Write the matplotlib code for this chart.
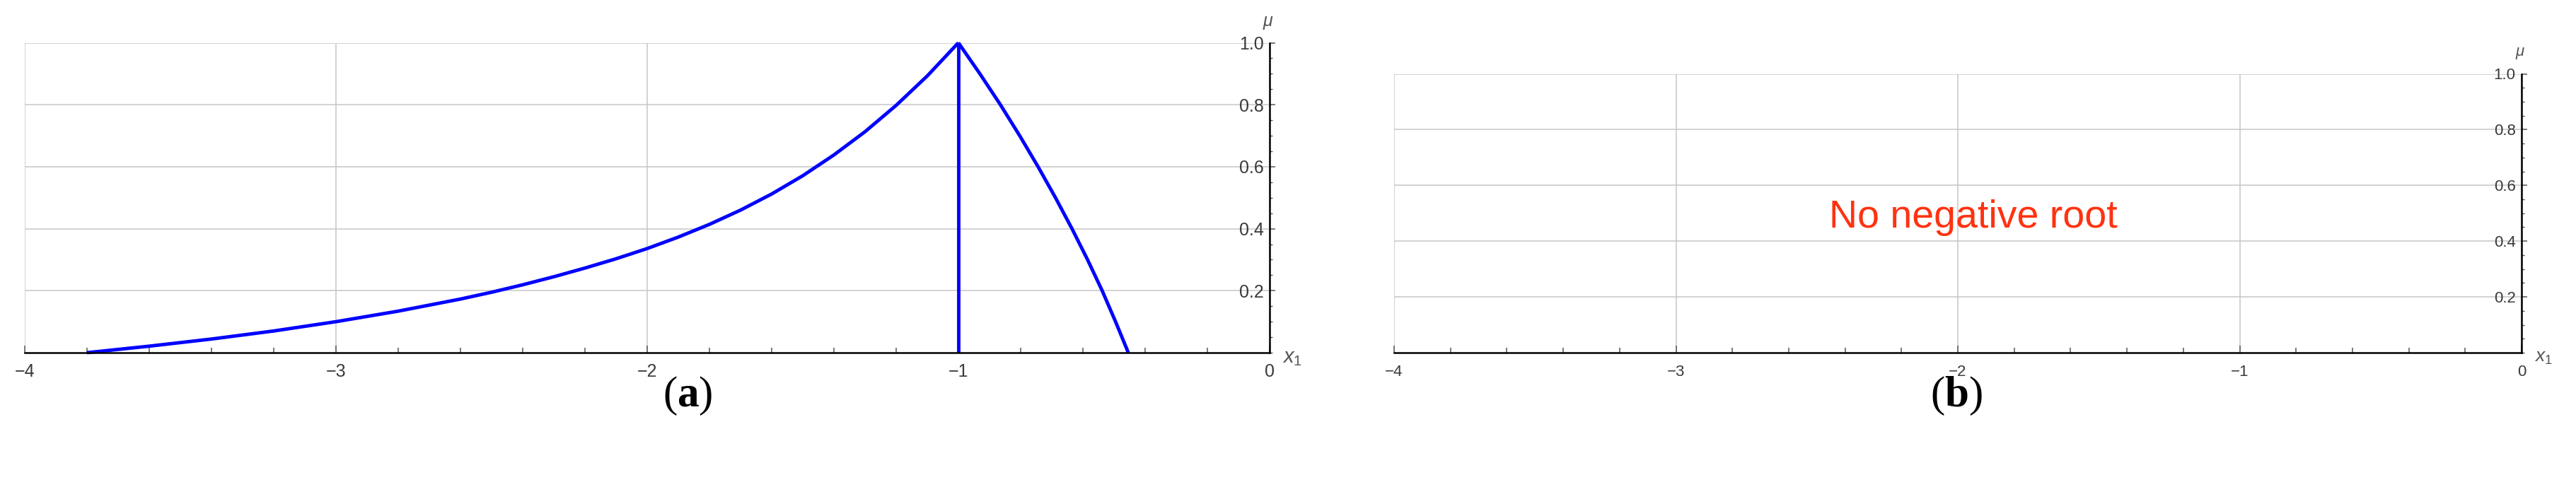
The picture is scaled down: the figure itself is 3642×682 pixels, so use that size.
import matplotlib
matplotlib.use('Agg')
import matplotlib.pyplot as plt
from matplotlib.ticker import MultipleLocator, FixedLocator

# ---------------- data ----------------
left_x = [-3.80, -3.60, -3.40, -3.20, -3.00, -2.80, -2.60, -2.50, -2.40, -2.30, -2.20, -2.10,
          -2.00, -1.90, -1.80, -1.70, -1.60, -1.50, -1.40, -1.30, -1.20, -1.10, -1.00]
left_mu = [0.000, 0.021, 0.044, 0.070, 0.100, 0.134, 0.173, 0.195, 0.219, 0.245, 0.273, 0.303,
           0.336, 0.373, 0.414, 0.460, 0.512, 0.571, 0.638, 0.713, 0.798, 0.893, 1.000]
right_x = [-1.000, -0.931, -0.865, -0.803, -0.744, -0.688, -0.635, -0.585, -0.538, -0.495, -0.454]
right_mu = [1.00, 0.90, 0.80, 0.70, 0.60, 0.50, 0.40, 0.30, 0.20, 0.10, 0.00]
spike_x = [-1.0, -1.0]
spike_mu = [0.0, 1.0]
x_ticks = [-4, -3, -2, -1, 0]
x_ticklabels = ['\u22124', '\u22123', '\u22122', '\u22121', '0']
y_ticks = [0.2, 0.4, 0.6, 0.8, 1.0]
y_ticklabels = ['0.2', '0.4', '0.6', '0.8', '1.0']
panel_labels = ['a', 'b']
message = 'No negative root'

# ---------------- style ----------------
plt.rcParams['font.family'] = ['Liberation Sans', 'DejaVu Sans']
plt.rcParams['mathtext.fontset'] = 'custom'
plt.rcParams['mathtext.rm'] = 'Liberation Sans'
plt.rcParams['mathtext.it'] = 'Liberation Sans:italic'
plt.rcParams['mathtext.bf'] = 'Liberation Serif:bold'

W, H = 3642, 682
fig = plt.figure(figsize=(W / 100, H / 100), dpi=100)

def fig_rect(x0, x1, ytop, ybot):
    return [x0 / W, 1 - ybot / H, (x1 - x0) / W, (ybot - ytop) / H]

ax_a = fig.add_axes(fig_rect(35, 1795, 60.5, 499))
ax_b = fig.add_axes(fig_rect(1971, 3565, 104.5, 499))

grid_c = '#c6c6c6'
tick_c = '#555555'
label_c = '#3a3a3a'

def style_axes(ax, fs, xpad):
    ax.set_xlim(-4, 0)
    ax.set_ylim(0, 1)
    for s in ['top', 'left']:
        ax.spines[s].set_visible(False)
    ax.spines['bottom'].set_linewidth(1.8)
    ax.spines['right'].set_linewidth(1.8)
    ax.spines['bottom'].set_zorder(5)
    ax.spines['right'].set_zorder(5)
    ax.xaxis.set_major_locator(FixedLocator(x_ticks))
    ax.set_xticklabels(x_ticklabels)
    ax.xaxis.set_minor_locator(MultipleLocator(0.2))
    ax.yaxis.set_major_locator(FixedLocator(y_ticks))
    ax.set_yticklabels(y_ticklabels)
    ax.yaxis.set_minor_locator(MultipleLocator(0.05))
    ax.yaxis.tick_right()
    ax.tick_params(axis='x', which='major', direction='in', length=7, width=1.1,
                   color=tick_c, labelsize=fs, labelcolor=label_c, pad=xpad)
    ax.tick_params(axis='x', which='minor', direction='in', length=5, width=1.1, color=tick_c)
    ax.tick_params(axis='y', which='major', direction='out', length=6, width=1.1,
                   color=tick_c, labelsize=fs, labelcolor=label_c, pad=-12,
                   right=True, left=False, labelright=True, labelleft=False)
    ax.tick_params(axis='y', which='minor', direction='out', length=3, width=1.0,
                   color=tick_c, right=True, left=False)
    for lbl in ax.get_yticklabels():
        lbl.set_horizontalalignment('right')
    ax.grid(True, which='major', color=grid_c, linewidth=1.1)
    ax.set_axisbelow(True)
    ax.annotate('$x_1$', xy=(0, 0), xycoords='data', xytext=(13, -5),
                textcoords='offset points', ha='left', va='center',
                fontsize=fs + 3, color='#555555', annotation_clip=False)
    ax.annotate('\u03bc', xy=(0, 1), xycoords='data', xytext=(-2, 22),
                textcoords='offset points', ha='center', va='center',
                fontsize=fs, style='italic', color='#555555', annotation_clip=False)

style_axes(ax_a, 18, 11)
style_axes(ax_b, 16, 12)

blue = (0, 0, 1)
for xs, ys in [(left_x, left_mu), (right_x, right_mu), (spike_x, spike_mu)]:
    ax_a.plot(xs, ys, color=blue, lw=3.5, clip_on=False, zorder=4,
              solid_joinstyle='round', solid_capstyle='butt')

ax_b.text(-1.945, 0.448, message, color='#ff3210', fontsize=40, ha='center', va='baseline')

for lab, xc in zip(panel_labels, [972, 2766]):
    fig.text(xc / W, 1 - 560 / H, '($\\mathbf{%s}$)' % lab, ha='center', va='center',
             fontsize=44, family='Liberation Serif')

fig.savefig('out.png', dpi=100, facecolor='white')
